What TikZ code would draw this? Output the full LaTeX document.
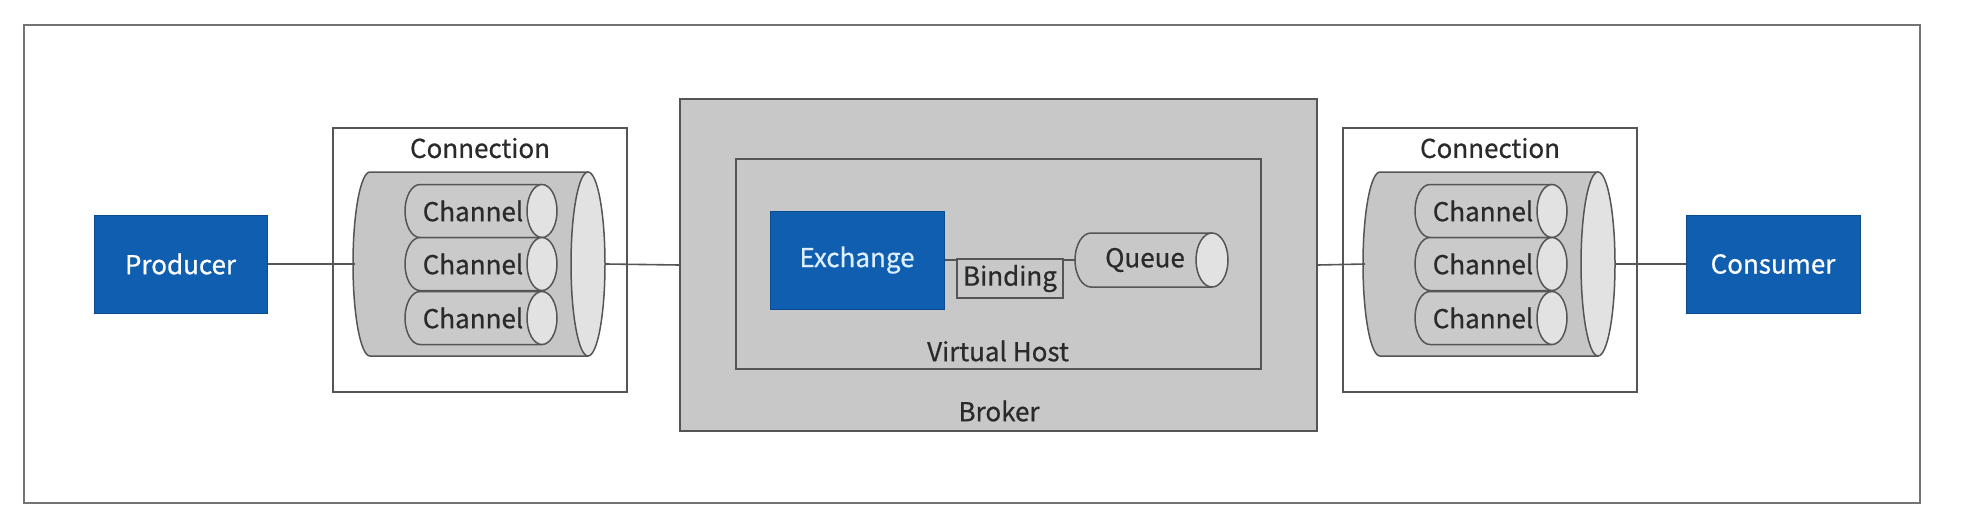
\documentclass[tikz,border=0pt]{standalone}
\usepackage{fontspec}
\setmainfont{Noto Sans CJK SC}[FakeBold=0.6]
\definecolor{bluebox}{HTML}{0F5EAF}
\definecolor{bluetxt}{HTML}{DDEEFF}
\definecolor{txt}{HTML}{2A2A2A}
\definecolor{panel}{HTML}{C8C8C8}
\definecolor{cylbody}{HTML}{C6C6C6}
\definecolor{endf}{HTML}{E2E2E2}
\definecolor{chbody}{HTML}{CACACA}
\definecolor{edge}{HTML}{555555}
\newcommand{\mycyl}[7]{%
  % #1 left centre x, #2 right centre x, #3 centre y, #4 rx, #5 ry, #6 body fill, #7 end fill
  \filldraw[draw=edge,line width=1.5pt,fill=#6]
    (#2,#3-#5) -- (#1,#3-#5) arc[start angle=270,end angle=90,x radius=#4,y radius=#5]
    -- (#2,#3+#5);
  \filldraw[draw=edge,line width=1.5pt,fill=#7] (#2,#3) ellipse[x radius=#4,y radius=#5];
}
\tikzset{
  lbl/.style={font=\fontsize{26}{30}\selectfont,text=txt,inner sep=0pt},
  bluenode/.style={fill=bluebox,draw=bluebox!80!black,line width=1pt,inner sep=0pt,
    font=\fontsize{26}{30}\selectfont},
  frame/.style={draw=edge,line width=1.5pt,inner sep=0pt},
  ghost/.style={inner sep=0pt,outer sep=0pt},
  conn/.style={draw=edge,line width=1.6pt}
}
\begin{document}
\begin{tikzpicture}[x=1pt,y=-1pt]
\useasboundingbox (0,0) rectangle (1963,525);
% outer frame
\draw[draw=gray!110,line width=2.5pt,fill=white] (24,25) rectangle (1920,503);

% producer / consumer
\node[bluenode,minimum width=173pt,minimum height=98pt,text=white] (prod) at (180.5,264) {Producer};
\node[bluenode,minimum width=174pt,minimum height=98pt,text=white] (cons) at (1773,264) {Consumer};

% connection boxes
\node[frame,fill=white,minimum width=294pt,minimum height=264pt] (connboxL) at (480,260) {};
\node[lbl] (connlblL) at (480,148) {Connection};
\node[frame,fill=white,minimum width=294pt,minimum height=264pt] (connboxR) at (1490,260) {};
\node[lbl] (connlblR) at (1490,148) {Connection};

% left connection cylinder
\mycyl{370}{588}{264}{17}{92}{cylbody}{endf}
\node[ghost,minimum width=251pt,minimum height=184pt] (cylL) at (480.5,264) {};
\foreach \yy/\nm in {211/a,264/b,318/c}{
  \mycyl{420}{542}{\yy}{15}{26.5}{chbody}{endf}
  \node[lbl] (chL\nm) at (473,\yy) {Channel};
}
% right connection cylinder
\mycyl{1380}{1598}{264}{17}{92}{cylbody}{endf}
\node[ghost,minimum width=251pt,minimum height=184pt] (cylR) at (1490.5,264) {};
\foreach \yy/\nm in {211/a,264/b,318/c}{
  \mycyl{1430}{1552}{\yy}{15}{26.5}{chbody}{endf}
  \node[lbl] (chR\nm) at (1483,\yy) {Channel};
}

% broker
\node[frame,fill=panel,minimum width=637pt,minimum height=332pt] (broker) at (998.5,265) {};
\node[lbl] (brokerlbl) at (999,411) {Broker};
\node[frame,fill=panel,minimum width=525pt,minimum height=210pt] (vhost) at (998.5,264) {};
\node[lbl] (vhostlbl) at (998,351) {Virtual Host};

% exchange, binding, queue
\node[bluenode,minimum width=174pt,minimum height=98pt,text=bluetxt] (ex) at (857,260) {Exchange};
\mycyl{1091}{1212}{260}{16}{27}{panel}{endf}
\node[ghost,minimum width=153pt,minimum height=54pt] (queue) at (1151.5,260) {};
\node[lbl] (queuelbl) at (1145,260) {Queue};
\draw[conn] (ex.east) -- (queue.west);
\node[frame,fill=panel,minimum width=106pt,minimum height=39pt,font=\fontsize{26}{30}\selectfont,text=txt] (bind) at (1010,278.5) {Binding};

% connectors
\draw[conn] (prod.east) -- (cylL.west);
\draw[conn] (cylL.east) -- (broker.west);
\draw[conn] (broker.east) -- (cylR.west);
\draw[conn] (cylR.east) -- (cons.west);
\end{tikzpicture}
\end{document}
